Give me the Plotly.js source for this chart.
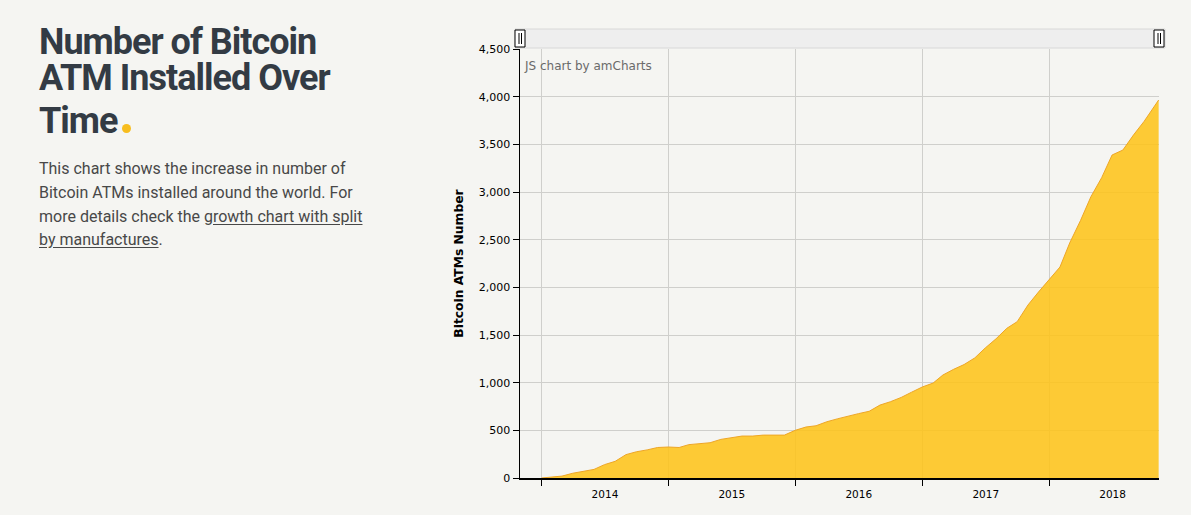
<!DOCTYPE html>
<html>
<head>
<meta charset="utf-8">
<script src="https://cdn.plot.ly/plotly-3.0.1.min.js"></script>
<style>
  html, body { margin:0; padding:0; background:#f5f5f2; width:1191px; height:515px; overflow:hidden; }
  #chart { position:absolute; left:0; top:0; width:1191px; height:515px; }
  .t { position:absolute; left:39px; top:27px; margin:0; font-family:Roboto, sans-serif; font-weight:700; font-size:36px; line-height:30px; letter-spacing:-1px; color:#333b44; white-space:nowrap; }
  .t span.l { display:block; }
  .p { position:absolute; left:39px; top:158px; margin:0; font-family:Roboto, sans-serif; font-size:16px; line-height:22px; color:#484848; white-space:nowrap; }
  .p span.l { display:block; }
  .p u { text-decoration:underline; text-underline-offset:2px; }
  .dot { display:inline-block; width:9px; height:9px; border-radius:50%; background:#f7bd1e; margin-left:5px; }
</style>
</head>
<body>
<div id="chart"></div>
<h1 class="t"><span class="l">Number of Bitcoin</span><span class="l" style="margin-top:6.4px">ATM Installed Over</span><span class="l" style="margin-top:12.6px">Time<span class="dot"></span></span></h1>
<p class="p"><span class="l">This chart shows the increase in number of</span><span class="l" style="margin-top:2px">Bitcoin ATMs installed around the world. For</span><span class="l" style="margin-top:2px">more details check the <u>growth chart with split</u></span><span class="l" style="margin-top:1px"><u>by manufactures</u>.</span></p>
<script>
const dates = [
  '2014-01-01','2014-02-01','2014-03-01','2014-04-01','2014-05-01','2014-06-01','2014-07-01','2014-08-01','2014-09-01','2014-10-01','2014-11-01','2014-12-01',
  '2015-01-01','2015-02-01','2015-03-01','2015-04-01','2015-05-01','2015-06-01','2015-07-01','2015-08-01','2015-09-01','2015-10-01','2015-11-01','2015-12-01',
  '2016-01-01','2016-02-01','2016-03-01','2016-04-01','2016-05-01','2016-06-01','2016-07-01','2016-08-01','2016-09-01','2016-10-01','2016-11-01','2016-12-01',
  '2017-01-01','2017-02-01','2017-03-01','2017-04-01','2017-05-01','2017-06-01','2017-07-01','2017-08-01','2017-09-01','2017-10-01','2017-11-01','2017-12-01',
  '2018-01-01','2018-02-01','2018-03-01','2018-04-01','2018-05-01','2018-06-01','2018-07-01','2018-08-01','2018-09-01','2018-10-01','2018-11-12'
];
const atmCount = [
  0, 8, 20, 50, 70, 90, 140, 175, 245, 275, 295, 320,
  325, 320, 350, 358, 370, 405, 425, 440, 440, 450, 450, 450,
  500, 535, 548, 590, 620, 650, 675, 700, 765, 800, 845, 900,
  955, 996, 1080, 1140, 1190, 1260, 1364, 1460, 1570, 1640, 1815, 1950,
  2077, 2213, 2465, 2700, 2950, 3150, 3388, 3440, 3600, 3740, 3965
];
const yTitle = 'Bitcoin ATMs Number';
const watermark = 'JS chart by amCharts';

const W = 1191, H = 515, L = 520, R = 1159, T = 49, B = 478;
const px = x => (x - L) / (R - L);
const py = y => (B - y) / (B - T);

const shapes = [
  {type:'rect', xref:'paper', yref:'paper', x0:px(515), x1:px(1165), y0:py(48), y1:py(29), fillcolor:'#eeeeee', line:{color:'#d8d8d8', width:1}, layer:'above'},
  {type:'rect', xref:'paper', yref:'paper', x0:px(515), x1:px(525), y0:py(47), y1:py(30), fillcolor:'#ffffff', line:{color:'#000', width:1}, layer:'above'},
  {type:'line', xref:'paper', yref:'paper', x0:px(519), x1:px(519), y0:py(44), y1:py(33), line:{color:'#000', width:1}, layer:'above'},
  {type:'line', xref:'paper', yref:'paper', x0:px(521.5), x1:px(521.5), y0:py(44), y1:py(33), line:{color:'#000', width:1}, layer:'above'},
  {type:'rect', xref:'paper', yref:'paper', x0:px(1154), x1:px(1164), y0:py(47), y1:py(30), fillcolor:'#ffffff', line:{color:'#000', width:1}, layer:'above'},
  {type:'line', xref:'paper', yref:'paper', x0:px(1158), x1:px(1158), y0:py(44), y1:py(33), line:{color:'#000', width:1}, layer:'above'},
  {type:'line', xref:'paper', yref:'paper', x0:px(1160.5), x1:px(1160.5), y0:py(44), y1:py(33), line:{color:'#000', width:1}, layer:'above'}
];

const trace = {
  x: dates, y: atmCount, type:'scatter', mode:'lines',
  fill:'tozeroy', fillcolor:'rgba(254,196,26,0.88)',
  line:{color:'#eea626', width:1}, hoverinfo:'x+y'
};

const layout = {
  width:W, height:H,
  margin:{l:L, r:W-R, t:T, b:H-B, pad:0},
  paper_bgcolor:'rgba(0,0,0,0)', plot_bgcolor:'rgba(0,0,0,0)',
  showlegend:false,
  font:{family:'DejaVu Sans, Verdana, sans-serif', color:'#000'},
  xaxis:{
    type:'date', range:['2013-10-31','2018-11-13'],
    tick0:'2014-01-01', dtick:'M12', ticklabelmode:'period', tickformat:'%Y',
    ticks:'outside', ticklen:6, tickcolor:'#000', tickwidth:1,
    showline:true, linecolor:'#000', linewidth:1.5,
    showgrid:true, gridcolor:'#cfcfcc', gridwidth:1, zeroline:false,
    tickfont:{size:10.5, color:'#000'}
  },
  yaxis:{
    range:[0,4500], dtick:500, tick0:0, tickformat:',',
    ticks:'outside', ticklen:6, tickcolor:'#000', tickwidth:1,
    showline:true, linecolor:'#000', linewidth:1.5,
    showgrid:true, gridcolor:'#cfcfcc', gridwidth:1, zeroline:false,
    tickfont:{size:11, color:'#000'},
    title:{text:'<b>'+yTitle+'</b>', font:{size:12.3, color:'#000'}, standoff:12}
  },
  shapes: shapes,
  annotations:[
    {xref:'paper', yref:'paper', x:px(522), y:py(66), xanchor:'left', yanchor:'middle', showarrow:false,
     text:watermark, font:{size:12, color:'#6a6a6a'}}
  ]
};

Plotly.newPlot('chart', [trace], layout, {displayModeBar:false, staticPlot:true});
</script>
</body>
</html>
